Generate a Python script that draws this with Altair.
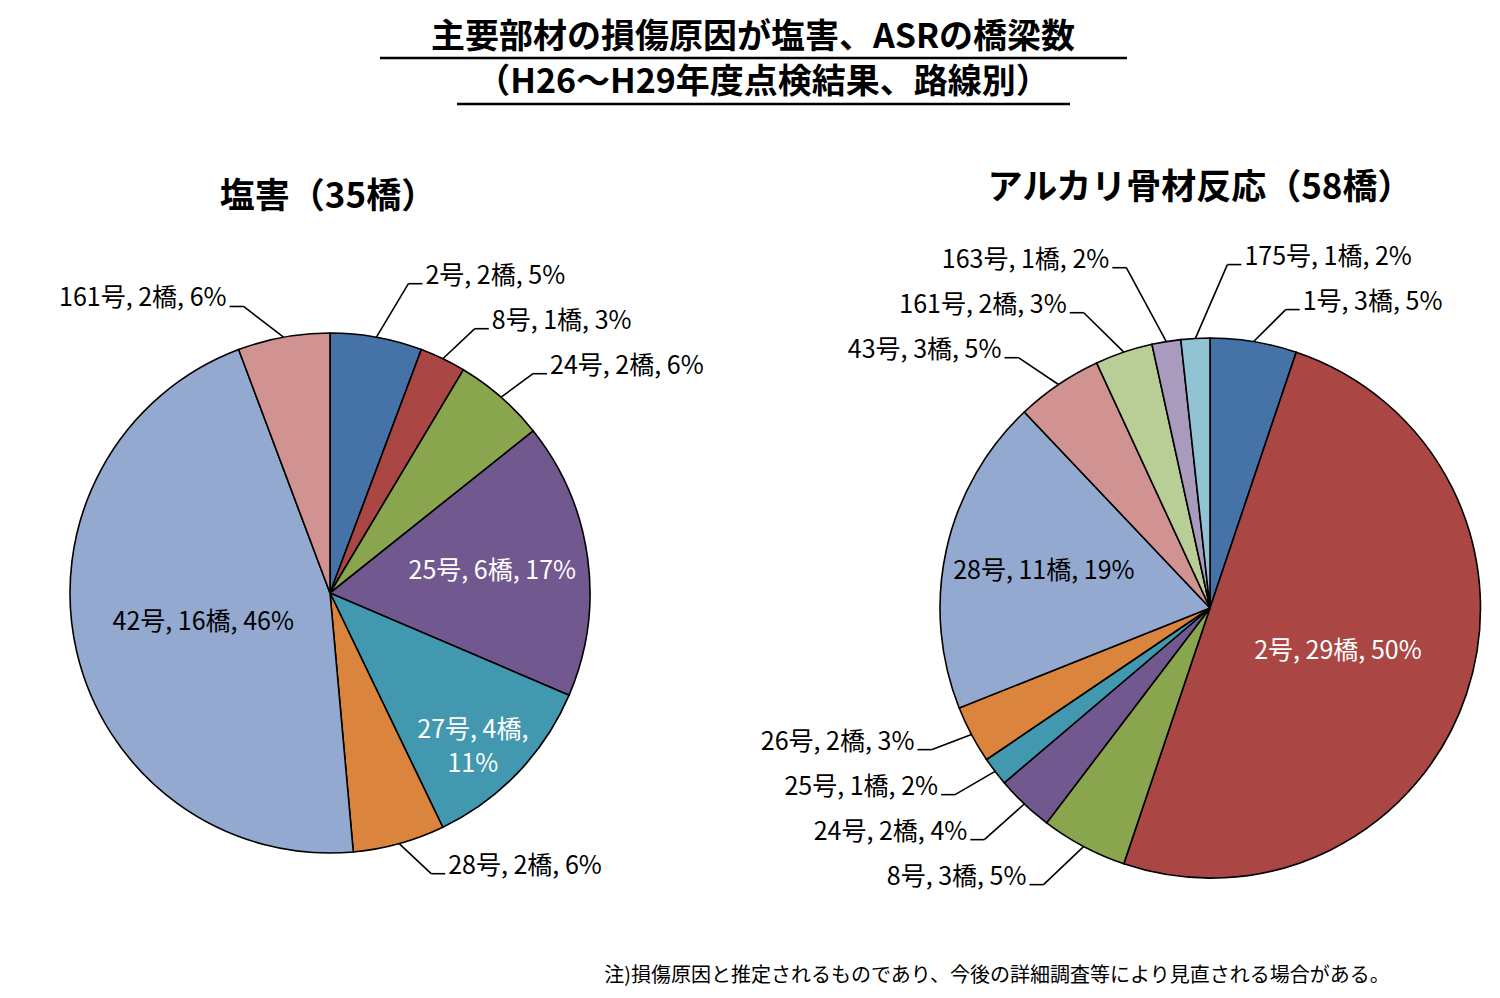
import math
import altair as alt
import pandas as pd

# ---------------- data ----------------
title_lines = ["主要部材の損傷原因が塩害、ASRの橋梁数", "（H26～H29年度点検結果、路線別）"]
footnote = "注)損傷原因と推定されるものであり、今後の詳細調査等により見直される場合がある。"

salt_title = "塩害（35橋）"
salt_routes = ["2号", "8号", "24号", "25号", "27号", "28号", "42号", "161号"]
salt_counts = [2, 1, 2, 6, 4, 2, 16, 2]
salt_pcts = [5, 3, 6, 17, 11, 6, 46, 6]

asr_title = "アルカリ骨材反応（58橋）"
asr_routes = ["1号", "2号", "8号", "24号", "25号", "26号", "28号", "43号", "161号", "163号", "175号"]
asr_counts = [3, 29, 3, 2, 1, 2, 11, 3, 2, 1, 1]
asr_pcts = [5, 50, 5, 4, 2, 3, 19, 5, 3, 2, 2]

palette = ["#4572A7", "#AA4643", "#89A54E", "#71588F", "#4198AF", "#DB843D",
           "#93A9CF", "#D19392", "#B9CD96", "#A99BBD", "#92C3D4"]

FONT = "Noto Sans CJK JP"
OFF = 8  # page margin


def lum(hexcol):
    r, g, b = (int(hexcol[i:i + 2], 16) for i in (1, 3, 5))
    return (0.299 * r + 0.587 * g + 0.114 * b) / 255


def inner_factor(share):
    if share < 0.15:
        return 0.76
    if share >= 0.4:
        return 0.5
    return 0.63


def build(routes, counts, pcts, cx, cy, r):
    """Slice table plus outside-label layout computed from the counts."""
    total = sum(counts)
    rows, outs = [], []
    cum = 0
    for i, (rt, c, p) in enumerate(zip(routes, counts, pcts)):
        a0 = cum / total * 2 * math.pi
        cum += c
        a1 = cum / total * 2 * math.pi
        mid = (a0 + a1) / 2
        share = c / total
        label = f"{rt}, {c}橋, {p}%"
        inside = share >= 0.1
        txt_in = ""
        if inside:
            txt_in = f"{rt}, {c}橋,\n{p}%" if share < 0.15 else label
        rows.append(dict(idx=i, route=rt, count=c, txt=txt_in,
                         tcol="black" if lum(palette[i]) > 0.6 else "white",
                         fac=inner_factor(share) if inside else 0.0))
        if not inside:
            side = "R" if math.sin(mid) > -0.06 else "L"
            outs.append(dict(label=label, mid=mid, side=side))
    R = r * 1.12
    gap = 45
    for o in outs:
        o["y"] = cy - R * math.cos(o["mid"])
        o["ex"] = cx + r * math.sin(o["mid"])
        o["ey"] = cy - r * math.cos(o["mid"])
    for side in ("R", "L"):
        top = sorted([o for o in outs if o["side"] == side and o["y"] < cy], key=lambda o: -o["y"])
        prev = None
        for o in top:
            if prev is not None:
                o["y"] = min(o["y"], prev - gap)
            prev = o["y"]
        bot = sorted([o for o in outs if o["side"] == side and o["y"] >= cy], key=lambda o: o["y"])
        prev = None
        for o in bot:
            if prev is not None:
                o["y"] = max(o["y"], prev + gap)
            prev = o["y"]
    segs, labs = [], []
    for o in outs:
        dy = o["y"] - cy
        half = math.sqrt(R * R - dy * dy) if abs(dy) < R else 0.0
        if o["side"] == "R":
            xk = max(cx + half, o["ex"] + 32)
            xs, xt = xk + 14, xk + 17
        else:
            xk = min(cx - half, o["ex"] - 40)
            xs, xt = xk - 14, xk - 17
        segs.append(dict(x=o["ex"] - OFF, y=o["ey"] - OFF, x2=xk - OFF, y2=o["y"] - OFF))
        segs.append(dict(x=xk - OFF, y=o["y"] - OFF, x2=xs - OFF, y2=o["y"] - OFF))
        labs.append(dict(label=o["label"], x=xt - OFF, y=o["y"] - 8 - OFF, side=o["side"]))
    return pd.DataFrame(rows), pd.DataFrame(segs), pd.DataFrame(labs)


color = alt.Color("idx:N", scale=alt.Scale(domain=list(range(len(palette))), range=palette), legend=None)


def pie(df, cx, cy, r):
    layers = []
    arc = alt.Chart(df).mark_arc(outerRadius=r, stroke="black", strokeWidth=1.6).encode(
        theta=alt.Theta("count:Q", stack=True),
        order=alt.Order("idx:Q"),
        color=color,
        x=alt.value(cx - OFF), y=alt.value(cy - OFF),
    )
    layers.append(arc)
    for fac in sorted(set(f for f in df["fac"] if f > 0)):
        d = df.copy()
        d["txt"] = [t if f == fac else "" for t, f in zip(d["txt"], d["fac"])]
        d = d.drop(columns=["fac"])
        txt = alt.Chart(d).mark_text(
            font=FONT, fontSize=25, lineBreak="\n", lineHeight=34, radius=r * fac
        ).encode(
            theta=alt.Theta("count:Q", stack=True),
            order=alt.Order("idx:Q"),
            x=alt.value(cx - OFF), y=alt.value(cy - OFF),
            text="txt:N",
            color=alt.Color("tcol:N", scale=None),
        )
        layers.append(txt)
    return alt.layer(*layers)


def annotations(segs, labs):
    lines = alt.Chart(segs).mark_rule(color="black", strokeWidth=1.6).encode(
        x=alt.X("x:Q", scale=None), y=alt.Y("y:Q", scale=None),
        x2="x2:Q", y2="y2:Q")
    right = alt.Chart(labs[labs.side == "R"]).mark_text(
        font=FONT, fontSize=25, align="left", baseline="middle", color="black").encode(
        x=alt.X("x:Q", scale=None), y=alt.Y("y:Q", scale=None), text="label:N")
    left = alt.Chart(labs[labs.side == "L"]).mark_text(
        font=FONT, fontSize=25, align="right", baseline="middle", color="black").encode(
        x=alt.X("x:Q", scale=None), y=alt.Y("y:Q", scale=None), text="label:N")
    return [lines, right, left]


LCX, LCY, LR = 330, 593, 260
RCX, RCY, RR = 1210, 608, 270

sdf, sseg, slab = build(salt_routes, salt_counts, salt_pcts, LCX, LCY, LR)
adf, aseg, alab = build(asr_routes, asr_counts, asr_pcts, RCX, RCY, RR)


def text_chart(s, x, y, size, weight="normal"):
    return alt.Chart(pd.DataFrame({"t": [s]})).mark_text(
        font=FONT, fontSize=size, fontWeight=weight, align="center", baseline="middle",
        color="black").encode(text="t:N", x=alt.value(x - OFF), y=alt.value(y - OFF))


def underline(x1, x2, y):
    return alt.Chart(pd.DataFrame({"a": [0]})).mark_rule(color="black", strokeWidth=2.5).encode(
        x=alt.value(x1 - OFF), x2=alt.value(x2 - OFF), y=alt.value(y - OFF))


layers = [
    pie(sdf, LCX, LCY, LR),
    pie(adf, RCX, RCY, RR),
    *annotations(sseg, slab),
    *annotations(aseg, alab),
    text_chart(title_lines[0], 753, 38, 34, "bold"),
    underline(380, 1127, 58),
    text_chart(title_lines[1], 763, 83, 34, "bold"),
    underline(457, 1070, 104),
    text_chart(salt_title, 328, 197, 35, "bold"),
    text_chart(asr_title, 1200, 188, 35, "bold"),
    text_chart(footnote, 997, 976, 20),
]

chart = alt.layer(*layers).resolve_scale(theta="independent").properties(
    width=1484, height=982, padding=0, autosize="none"
).configure_view(stroke=None)

chart.save("out.html", embed_options={"renderer": "svg", "actions": False})
